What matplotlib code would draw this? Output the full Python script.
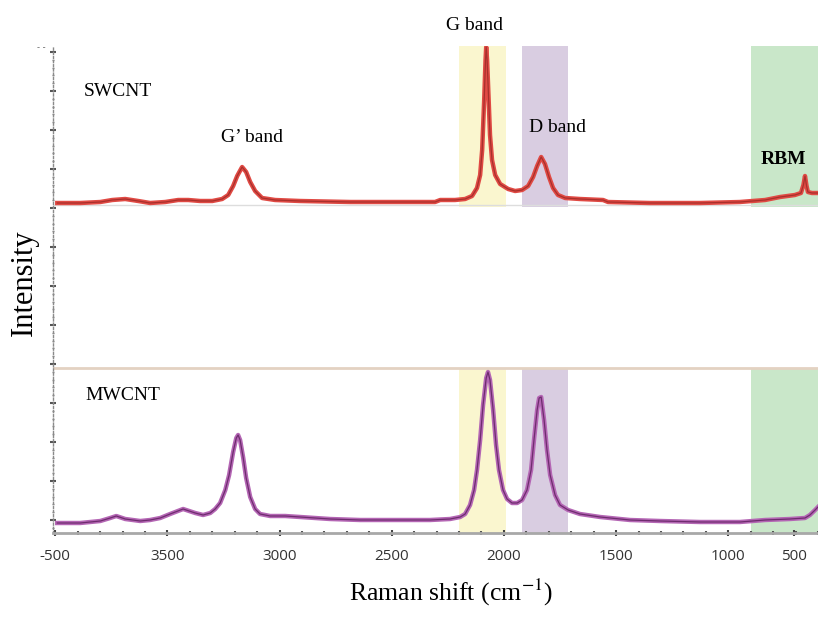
import numpy as np
import matplotlib.pyplot as plt
from matplotlib.ticker import FixedLocator, MultipleLocator

plt.rcParams['mathtext.fontset'] = 'stix'

# Raman shift and intensity (a.u.) for each spectrum
sw_shift = [3991, 3889, 3799, 3746, 3688, 3630, 3577, 3510, 3452, 3407, 3354, 3300,
            3256, 3229, 3207, 3189, 3167, 3149, 3131, 3109, 3078, 3020, 2908, 2685,
            2463, 2307, 2284, 2218, 2173, 2142, 2120, 2106, 2097, 2088, 2082, 2079,
            2075, 2068, 2062, 2053, 2039, 2017, 1981, 1950, 1919, 1892, 1870, 1852,
            1834, 1817, 1799, 1781, 1759, 1727, 1661, 1558, 1536, 1349, 1126, 948,
            836, 769, 703, 676, 665, 658, 651, 645, 627, 600]
sw_int = [330, 330, 331, 333, 334, 332, 330, 331, 333, 333, 332, 332,
          334, 338, 347, 357, 366, 361, 351, 342, 335, 333, 332, 331,
          331, 331, 333, 333, 334, 337, 345, 358, 383, 433, 473, 486,
          473, 433, 398, 373, 358, 349, 344, 342, 343, 347, 356, 367,
          376, 369, 356, 345, 338, 335, 334, 333, 331, 330, 330, 331,
          333, 336, 338, 340, 348, 357, 347, 341, 340, 340]

mw_shift = [3991, 3889, 3799, 3755, 3728, 3688, 3621, 3577, 3532, 3488, 3430, 3376,
            3341, 3309, 3287, 3265, 3242, 3225, 3207, 3193, 3185, 3176, 3162, 3149,
            3131, 3109, 3087, 3042, 2975, 2908, 2775, 2641, 2463, 2329, 2240, 2195,
            2173, 2151, 2133, 2120, 2106, 2093, 2079, 2071, 2062, 2048, 2035, 2022,
            2004, 1986, 1964, 1941, 1919, 1897, 1879, 1866, 1852, 1843, 1834, 1821,
            1808, 1794, 1772, 1750, 1714, 1661, 1571, 1438, 1304, 1126, 948, 836,
            725, 658, 636, 613, 600]
mw_int = [10, 10, 12, 15, 17, 14, 12, 13, 15, 19, 24, 20,
          18, 20, 24, 30, 43, 58, 81, 95, 98, 93, 75, 55,
          36, 24, 19, 17, 17, 16, 14, 13, 13, 13, 14, 16,
          19, 28, 43, 63, 93, 128, 155, 161, 153, 123, 88, 63,
          43, 34, 30, 30, 33, 43, 63, 93, 123, 135, 136, 113,
          83, 58, 38, 28, 23, 19, 16, 13, 12, 11, 11, 13,
          14, 15, 18, 23, 26]

# shaded band ranges (cm-1)
g_band = (2200, 1990)
d_band = (1919, 1714)
rbm_band = (899, 600)

x_ticks = [4000, 3500, 3000, 2500, 2000, 1500, 1000, 707]
x_labels = ['-500', '3500', '3000', '2500', '2000', '1500', '1000', '500']

fig = plt.figure(figsize=(8.18, 6.24), dpi=100)
ax = fig.add_axes([53 / 818, 91 / 624, 765 / 818, 487 / 624])
ax.set_xlim(4010, 600)
ax.set_ylim(0, 487)

# coloured bands: upper part (SWCNT) and lower part (MWCNT)
for (a, b), c in zip([g_band, d_band, rbm_band], ['#faf6cf', '#d9cde1', '#c9e7c9']):
    ax.fill_betweenx([326, 487], a, b, color=c, lw=0, zorder=0)
    ax.fill_betweenx([0, 165], a, b, color=c, lw=0, zorder=0)

ax.axhline(165, color='#e3d2c2', lw=2, zorder=1)
ax.axhline(328, color='#dddddd', lw=1, zorder=1)

ax.plot(sw_shift, sw_int, color='#e04a44', lw=3.2, zorder=3, solid_joinstyle='round')
ax.plot(sw_shift, sw_int, color='#a8302c', lw=0.9, zorder=4)
ax.plot(mw_shift, mw_int, color='#b466b4', lw=3.2, zorder=3, solid_joinstyle='round')
ax.plot(mw_shift, mw_int, color='#6e2c6e', lw=0.9, zorder=4)

serif = 'Liberation Serif'
ax.text(3875, 441, 'SWCNT', family=serif, fontsize=14, ha='left', va='center')
ax.text(3866, 138, 'MWCNT', family=serif, fontsize=14, ha='left', va='center')
ax.text(3122, 396, 'G\u2019 band', family=serif, fontsize=14, ha='center', va='center')
ax.text(2133, 508, 'G band', family=serif, fontsize=14, ha='center', va='center', clip_on=False)
ax.text(1759, 406, 'D band', family=serif, fontsize=14, ha='center', va='center')
ax.text(756, 374, 'RBM', family=serif, fontsize=14, fontweight='bold', ha='center', va='center')

# axes styling
for s in ['top', 'right']:
    ax.spines[s].set_visible(False)
ax.spines['bottom'].set_color('#a8a8a8')
ax.spines['bottom'].set_linewidth(2)
ax.spines['left'].set_color('#8a8a8a')
ax.spines['left'].set_linewidth(1)
ax.spines['left'].set_linestyle((0, (1.5, 1.5)))

ax.xaxis.set_major_locator(FixedLocator(x_ticks))
ax.set_xticklabels(x_labels)
ax.xaxis.set_minor_locator(MultipleLocator(100))
ax.tick_params(axis='x', which='major', direction='inout', length=5, width=1.5,
               color='#444444', pad=9, labelsize=11, labelcolor='#333333')
ax.tick_params(axis='x', which='minor', direction='inout', length=3, width=1.5, color='#555555')
for lab in ax.get_xticklabels():
    lab.set_family('Open Sans')

ax.yaxis.set_major_locator(FixedLocator(np.arange(481, 0, -39)))
ax.yaxis.set_minor_locator(FixedLocator(np.arange(481, 0, -7.8)))
ax.tick_params(axis='y', which='major', direction='inout', length=4, width=1.5,
               color='#555555', labelleft=False)
ax.tick_params(axis='y', which='minor', direction='inout', length=2, width=1, color='#888888')

# small stray mark at the top of the y axis
fig.text(41 / 818, 1 - 47 / 624, '- -', family='DejaVu Sans', fontsize=6,
         color='#666666', ha='center', va='center')

fig.text(451 / 818, 1 - 592 / 624, 'Raman shift (cm$^{-1}$)', family=serif,
         fontsize=18.5, ha='center', va='center')
fig.text(24 / 818, 1 - 283 / 624, 'Intensity', family=serif, fontsize=22,
         rotation=90, ha='center', va='center')

fig.savefig('out.png', dpi=100)
